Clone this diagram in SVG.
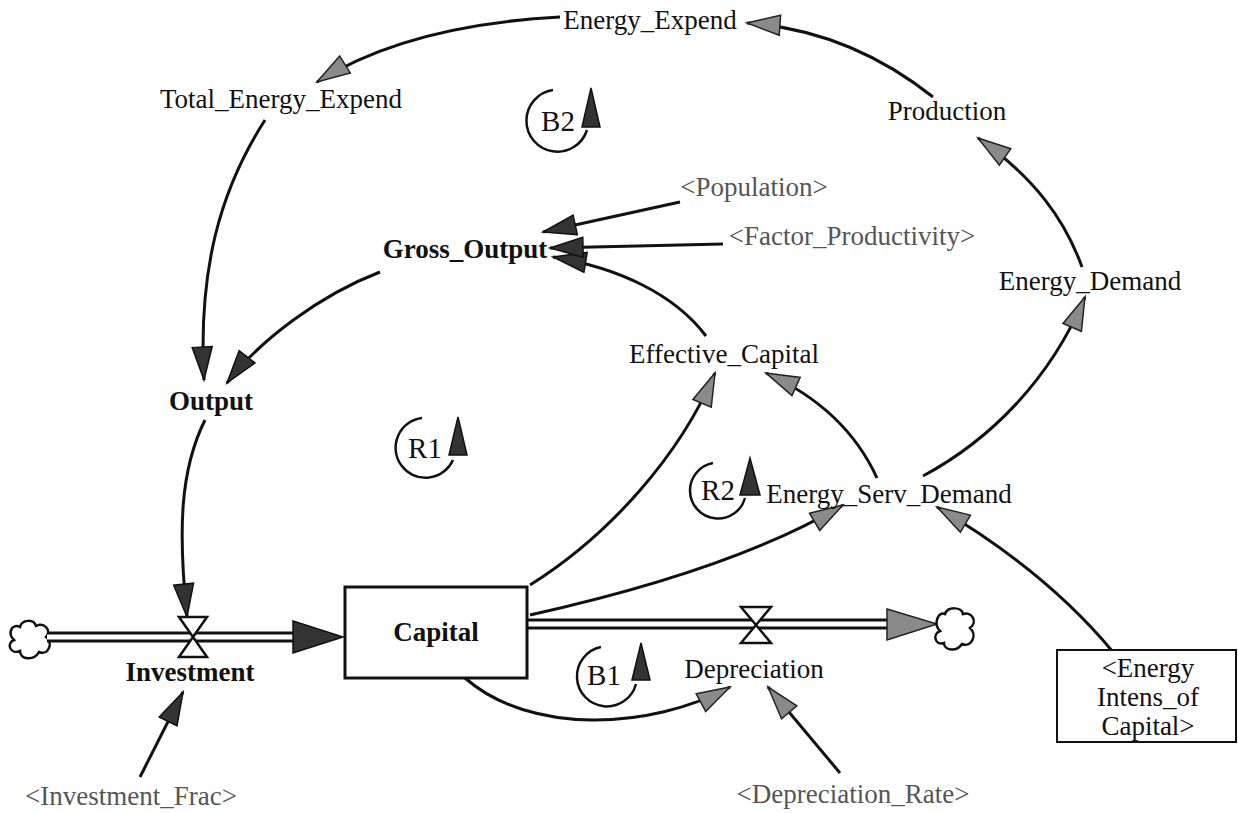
<svg xmlns="http://www.w3.org/2000/svg" width="1238" height="813" viewBox="0 0 1238 813">
<style>
.t{font-family:"Liberation Serif","Times New Roman",serif;font-size:27px;fill:#111;text-anchor:middle}
.b{font-weight:bold}
.s{fill:#555}
.lp{font-size:29px}
.link{fill:none;stroke:#111;stroke-width:3}
.loop{fill:none;stroke:#111;stroke-width:2.5}
.hd{fill:#333;stroke:#111;stroke-width:1.5}
.hg{fill:#8a8a8a;stroke:#222;stroke-width:1.5}
.pipeo{fill:none;stroke:#111;stroke-width:11}
.pipei{fill:none;stroke:#fff;stroke-width:5}
.valve{fill:#fff;stroke:#111;stroke-width:2.5}
.box{fill:#fff;stroke:#111;stroke-width:3}
.cloud{fill:#fff;stroke:#111;stroke-width:2.5}
</style>
<defs>
<marker id="ahd" markerUnits="userSpaceOnUse" markerWidth="36" markerHeight="24" refX="33" refY="10" orient="auto" overflow="visible">
<path d="M0,0 L33,10 L0,20 Z" class="hd"/>
</marker>
<marker id="ahg" markerUnits="userSpaceOnUse" markerWidth="36" markerHeight="24" refX="33" refY="10" orient="auto" overflow="visible">
<path d="M0,0 L33,10 L0,20 Z" class="hg"/>
</marker>
</defs>
<rect width="1238" height="813" fill="#fff"/>

<g id="flows">
<path class="cloud" d="M20,627 C22,619 34,619 36,626 C44,622 52,630 46,637 C54,643 48,656 39,652 C34,661 20,660 20,651 C10,655 6,643 14,640 C7,633 12,623 20,627 Z"/>
<path class="pipeo" d="M47,637 L295,637"/>
<path class="pipei" d="M47,637 L297,637"/>
<path class="hd" d="M293,621 L343,637 L293,653 Z"/>
<path class="pipeo" d="M527,624 L889,624"/>
<path class="pipei" d="M527,624 L891,624"/>
<path class="hg" d="M887,609 L937,624 L887,640 Z"/>
<path class="cloud" d="M945,614 C948,606 962,607 963,614 C972,611 978,622 970,628 C978,635 971,648 962,644 C957,652 944,651 944,643 C935,646 932,634 940,631 C933,624 938,611 945,614 Z"/>
</g>

<g id="connectors">
<path class="link" d="M560,17 Q408,25 317,82" marker-end="url(#ahg)"/>
<path class="link" d="M933,97 C880,55 820,28 747,23" marker-end="url(#ahg)"/>
<path class="link" d="M1082,267 C1065,220 1035,178 978,138" marker-end="url(#ahg)"/>
<path class="link" d="M923,476 C990,440 1050,380 1085,297" marker-end="url(#ahg)"/>
<path class="link" d="M877,478 C855,430 815,395 766,373" marker-end="url(#ahg)"/>
<path class="link" d="M530,585 C610,535 680,455 715,373" marker-end="url(#ahg)"/>
<path class="link" d="M530,615 C620,595 750,560 843,505" marker-end="url(#ahg)"/>
<path class="link" d="M1113,652 C1070,600 1010,550 937,507" marker-end="url(#ahg)"/>
<path class="link" d="M706,336 C675,295 620,268 553,257" marker-end="url(#ahd)"/>
<path class="link" d="M680,202 L543,232" marker-end="url(#ahd)"/>
<path class="link" d="M723,244 L550,248" marker-end="url(#ahd)"/>
<path class="link" d="M380,272 C320,295 260,340 227,383" marker-end="url(#ahd)"/>
<path class="link" d="M265,120 C220,190 198,270 204,380" marker-end="url(#ahd)"/>
<path class="link" d="M205,420 C180,470 178,530 187,617" marker-end="url(#ahd)"/>
<path class="link" d="M140,777 L183,692" marker-end="url(#ahd)"/>
<path class="link" d="M840,773 L768,687" marker-end="url(#ahg)"/>
<path class="link" d="M465,678 C530,735 650,730 730,687" marker-end="url(#ahg)"/>
</g>

<g id="capital"><rect class="box" x="345" y="587" width="182" height="91"/><text class="t b" x="436" y="641">Capital</text></g>
<g id="investment"><path class="valve" d="M179,617 L207,617 L179,657 L207,657 Z"/><text class="t b" x="190" y="681">Investment</text></g>
<g id="depreciation"><path class="valve" d="M741,607 L771,607 L741,643 L771,643 Z"/><text class="t" x="754" y="678">Depreciation</text></g>
<g id="energy_expend"><text class="t" x="650" y="29">Energy_Expend</text></g>
<g id="total_energy_expend"><text class="t" x="281" y="108">Total_Energy_Expend</text></g>
<g id="production"><text class="t" x="947" y="120">Production</text></g>
<g id="population"><text class="t s" x="754" y="196">&lt;Population&gt;</text></g>
<g id="gross_output"><text class="t b" x="465" y="258">Gross_Output</text></g>
<g id="factor_productivity"><text class="t s" x="852" y="245">&lt;Factor_Productivity&gt;</text></g>
<g id="energy_demand"><text class="t" x="1090" y="290">Energy_Demand</text></g>
<g id="effective_capital"><text class="t" x="724" y="363">Effective_Capital</text></g>
<g id="output"><text class="t b" x="211" y="410">Output</text></g>
<g id="energy_serv_demand"><text class="t" x="889" y="503">Energy_Serv_Demand</text></g>
<g id="investment_frac"><text class="t s" x="131" y="805">&lt;Investment_Frac&gt;</text></g>
<g id="depreciation_rate"><text class="t s" x="853" y="803">&lt;Depreciation_Rate&gt;</text></g>
<g id="energy_intens"><rect class="box" x="1057" y="650" width="179" height="92" style="stroke-width:2"/>
<text class="t" x="1148" y="677">&lt;Energy</text><text class="t" x="1148" y="706">Intens_of</text><text class="t" x="1148" y="735">Capital&gt;</text></g>

<g id="loop_b2"><path class="loop" d="M553,90 A31,31 0 1 0 587,130"/><path class="hd" d="M591,88 L600,127 L582,127 Z"/><text class="t lp" x="558" y="131">B2</text></g>
<g id="loop_r1"><path class="loop" d="M422,418 A30,30 0 1 0 453,460"/><path class="hd" d="M458,417 L467,455 L449,455 Z"/><text class="t lp" x="425" y="458">R1</text></g>
<g id="loop_r2"><path class="loop" d="M713,463 A28,28 0 1 0 745,498"/><path class="hd" d="M750,458 L760,495 L740,495 Z"/><text class="t lp" x="718" y="500">R2</text></g>
<g id="loop_b1"><path class="loop" d="M601,647 A30,30 0 1 0 636,684"/><path class="hd" d="M641,643 L650,680 L632,680 Z"/><text class="t lp" x="604" y="685">B1</text></g>
</svg>
